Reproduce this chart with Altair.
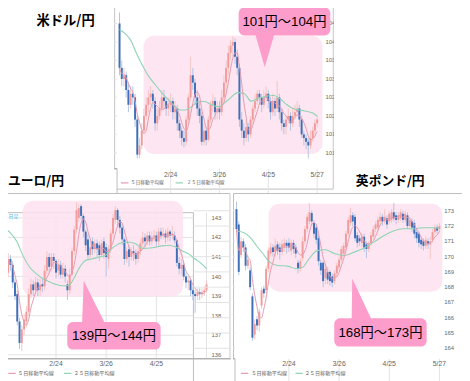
import altair as alt
import pandas as pd

# ---------------- data ----------------
days = list(range(90))
date_idx = [23, 45, 67, 89]
date_txt = ["2/24", "3/26", "4/25", "5/27"]

usd_open = [104.5,103.3,103.0,103.1,102.7,102.3,102.6,102.5,101.9,100.95,
101.2,101.6,102.0,102.3,102.5,102.6,102.4,101.8,102.0,102.2,
102.5,102.4,102.2,102.3,102.4,102.1,102.2,101.8,101.6,101.4,
101.3,101.9,102.5,103.1,102.9,102.5,102.2,102.0,101.3,101.6,
101.35,101.9,102.3,102.4,102.1,102.2,102.1,102.5,102.9,103.3,
103.7,103.9,104.0,103.6,103.3,101.9,101.6,101.4,101.7,101.5,
101.9,102.2,102.4,102.6,102.5,102.3,102.5,102.6,102.4,102.1,
102.4,102.2,102.5,102.1,101.8,101.7,101.9,102.0,101.8,102.0,
102.1,102.2,101.9,101.5,101.4,101.3,101.2,101.4,101.6,101.8]
usd_close = [103.3,103.0,103.1,102.7,102.3,102.6,102.5,101.9,100.95,101.2,
101.6,102.0,102.3,102.5,102.6,102.4,101.8,102.0,102.2,102.5,
102.4,102.2,102.3,102.4,102.1,102.2,101.8,101.6,101.4,101.3,
101.9,102.5,103.1,102.9,102.5,102.2,102.0,101.3,101.6,101.35,
101.9,102.3,102.4,102.1,102.2,102.1,102.5,102.9,103.3,103.7,
103.9,104.0,103.6,103.3,101.9,101.6,101.4,101.7,101.5,101.9,
102.2,102.4,102.6,102.5,102.3,102.5,102.6,102.4,102.1,102.4,
102.2,102.5,102.1,101.8,101.7,101.9,102.0,101.8,102.0,102.1,
102.2,101.9,101.5,101.4,101.3,101.2,101.4,101.6,101.8,101.9]
usd_high = [104.8,103.5,103.3,103.2,102.9,102.8,102.8,102.6,102.0,101.4,
101.8,102.2,102.5,102.7,102.8,102.7,102.5,102.2,102.4,102.7,
102.7,102.5,102.5,102.6,102.5,102.4,102.3,101.9,101.7,101.6,
102.0,102.6,103.6,103.3,103.0,102.7,102.4,102.1,101.8,101.7,
102.0,102.4,102.6,102.5,102.4,102.4,102.7,103.1,103.5,103.9,
104.05,104.15,104.1,103.8,103.4,102.1,101.8,101.9,101.8,102.0,
102.3,102.6,102.7,102.7,102.6,102.7,102.8,102.7,102.5,102.6,
102.5,102.95,102.6,102.2,101.9,102.0,102.2,102.1,102.2,102.3,
102.4,102.3,102.0,101.6,101.5,101.4,101.6,101.7,101.9,102.0]
usd_low = [103.1,102.8,102.8,102.5,102.1,102.2,102.3,101.7,100.85,100.85,
101.1,101.5,101.9,102.1,102.3,102.2,101.6,101.6,101.9,102.1,
102.2,102.0,102.0,102.1,101.9,101.9,101.6,101.4,101.2,101.15,
101.2,101.8,102.4,102.7,102.3,102.0,101.8,101.2,101.2,101.2,
101.3,101.8,102.1,101.9,101.9,101.9,102.0,102.4,102.7,103.1,
103.5,103.6,103.4,103.1,101.7,101.4,101.2,101.3,101.3,101.4,
101.8,102.1,102.3,102.3,102.1,102.2,102.4,102.2,101.9,102.0,
102.0,102.1,101.9,101.6,101.5,101.5,101.8,101.6,101.7,101.9,
102.0,101.7,101.4,101.2,101.1,100.85,101.1,101.3,101.5,101.7]
usd_ma25_i = [0, 3, 5.2, 7.4, 10.4, 13.4, 16.3, 19.2, 22.2, 25.1, 27.4, 29.6, 32.5, 35.5, 38.4,
              41.4, 44.4, 48.9, 53.3, 56.3, 59.2, 62.2, 65.1, 69.6, 72.5, 75.4, 78.4, 82.8, 87.3, 89]
usd_ma25_v = [104.34, 104.2, 104.03, 103.72, 103.36, 103.05, 102.83, 102.61, 102.43, 102.25, 102.16,
              102.16, 102.25, 102.39, 102.39, 102.3, 102.25, 102.43, 102.63, 102.6, 102.4, 102.47,
              102.52, 102.55, 102.45, 102.3, 102.19, 102.14, 102.07, 101.99]
usd_ticks = [101.0, 101.5, 102.0, 102.5, 103.0, 103.5, 104.0, 104.5]
usd_box_i = [10.8, 91.4]
usd_box_v = [100.97, 104.17]

eur_open = [141.6,141.3,140.2,140.9,140.6,139.7,139.1,137.7,136.6,137.3,
137.7,138.2,139.1,139.6,139.3,139.7,139.3,139.6,139.5,140.3,
141.0,140.5,141.0,140.8,140.3,140.6,140.1,140.4,139.6,139.3,
140.1,141.3,142.4,143.0,143.6,143.1,142.3,141.9,141.1,141.8,
141.4,141.7,141.6,141.1,141.8,141.5,140.9,141.4,142.2,142.9,
143.4,142.9,142.5,141.9,140.9,141.4,141.0,141.3,141.2,140.9,
141.3,141.7,142.0,141.8,142.1,141.8,142.0,142.1,141.8,142.3,
142.1,142.2,142.0,142.3,142.1,142.1,141.85,140.7,140.4,140.6,
140.0,139.7,139.8,139.3,139.1,139.0,139.2,139.1,139.2,139.3]
eur_close = [141.2,140.1,140.9,140.6,139.7,139.0,137.7,136.6,137.3,137.8,
138.2,139.1,139.6,139.3,139.7,139.3,139.6,139.5,140.3,141.0,
140.5,141.0,140.8,140.2,140.6,140.1,140.4,140.0,139.3,140.1,
141.3,142.4,143.4,143.5,143.1,142.3,141.6,141.1,141.5,141.4,
141.7,141.4,141.1,141.7,141.2,141.0,141.4,142.2,143.0,143.4,
142.9,142.5,141.9,140.9,141.3,141.0,141.3,141.2,140.9,141.3,
141.7,142.0,141.8,142.1,141.8,142.0,142.1,141.8,142.3,142.1,
142.2,142.0,142.3,142.1,142.2,141.85,140.7,140.4,140.6,140.0,
139.7,139.8,139.3,139.1,139.0,139.2,139.1,139.2,139.3,139.6]
eur_high = [141.9,141.5,141.2,141.1,140.8,139.9,139.3,137.9,137.5,138.1,
138.5,139.4,139.9,139.8,140.0,139.9,139.9,139.9,140.6,141.3,
141.2,141.2,141.2,140.9,140.9,140.8,140.7,140.6,139.8,140.4,
141.5,142.6,143.8,143.7,143.7,143.2,142.4,142.2,141.8,142.0,
141.9,141.9,141.8,141.9,142.0,141.7,141.6,142.4,143.2,143.6,
143.5,143.1,142.7,142.0,141.5,141.6,141.5,141.6,141.4,141.5,
141.9,142.3,142.2,142.3,142.3,142.3,142.4,142.3,142.5,142.5,
142.5,142.4,142.5,142.4,142.6,142.3,141.9,141.0,140.9,140.8,
140.2,140.0,139.9,139.5,139.3,139.4,139.4,139.4,139.5,139.8]
eur_low = [141.0,139.9,140.0,140.3,139.4,138.8,137.5,136.3,136.2,137.0,
137.4,138.0,138.9,139.0,139.1,139.0,139.0,139.2,139.3,140.1,
140.2,140.3,140.4,139.9,140.0,139.9,139.9,139.7,138.8,139.1,
140.0,141.1,142.2,142.8,142.9,142.0,141.3,140.9,140.9,141.1,
141.2,141.0,140.8,141.0,140.9,140.0,140.4,141.2,142.0,142.7,
142.6,142.2,141.6,140.6,140.7,140.5,140.8,140.8,140.6,140.7,
141.1,141.5,141.5,141.6,141.6,141.6,141.8,141.5,141.6,141.9,
141.9,141.7,141.8,141.8,141.9,141.7,140.5,140.1,140.1,139.8,
139.4,139.3,139.0,138.8,138.15,138.8,138.8,138.9,139.0,139.2]
eur_ma25_i = [0, 2.8, 5.7, 8.5, 11.4, 14.3, 17.2, 20, 22.9, 25.8, 28.7, 30.8, 33, 35.9, 38.7, 41.6,
              44.5, 48.1, 52.4, 55.3, 58.1, 61, 65.3, 69.6, 72.5, 75.3, 78.2, 81.1, 84, 86.9, 89]
eur_ma25_v = [142.5, 142.25, 141.82, 141.07, 140.49, 140.15, 139.9, 139.73, 139.6, 139.53, 139.56,
              139.9, 140.4, 140.82, 140.9, 140.99, 141.07, 141.49, 141.74, 141.75, 141.66, 141.44,
              141.47, 141.57, 141.6, 141.52, 141.32, 141.16, 140.9, 140.65, 140.4]
eur_ticks = [136, 137, 138, 139, 140, 141, 142, 143]
eur_box_i = [8.3, 78.7]
eur_box_v = [138.98, 143.87]

gbp_open = [173.1,172.1,170.1,171.0,170.6,169.4,169.1,167.4,164.9,165.9,
165.5,166.8,167.9,167.8,169.2,170.2,170.6,170.3,170.8,170.6,
170.3,170.6,170.9,170.9,170.4,170.9,170.6,169.6,169.2,169.9,
171.0,171.8,172.3,172.85,172.2,171.9,171.2,169.6,169.6,168.6,
169.0,169.0,168.7,168.4,168.9,169.3,169.8,170.2,170.6,171.5,
172.2,172.7,172.6,171.4,171.2,170.9,171.3,170.8,170.5,170.9,
171.3,171.8,171.9,172.3,172.6,172.3,172.5,172.3,172.4,172.9,
172.7,172.4,172.5,172.8,172.4,172.7,172.0,172.3,172.2,171.6,
171.5,171.1,171.0,170.7,171.0,170.8,171.1,171.6,171.9,171.8]
gbp_close = [171.8,169.0,171.0,170.6,169.4,169.8,168.0,164.7,165.6,165.5,
166.4,167.8,167.6,169.2,170.4,170.6,170.3,170.7,170.4,170.3,
170.8,170.9,170.7,170.6,170.9,170.5,170.2,169.2,169.7,171.0,
171.8,172.6,172.9,172.3,171.5,171.1,169.7,169.1,168.4,169.2,
168.5,168.4,168.3,168.9,169.4,169.8,170.5,170.7,171.5,172.4,
172.7,172.3,171.2,170.9,171.0,171.3,170.6,170.5,170.8,171.4,
171.8,172.1,172.4,172.6,172.3,172.6,172.1,172.8,172.9,172.5,
172.4,172.7,172.9,172.4,172.8,172.0,172.4,171.9,171.5,171.2,
170.9,170.8,170.7,171.1,170.8,171.0,171.6,171.9,171.7,172.0]
gbp_high = [173.6,172.3,171.3,171.2,170.8,170.1,169.3,167.6,165.9,166.1,
166.6,168.0,168.1,169.4,170.6,170.9,170.8,171.2,171.0,170.9,
171.1,171.2,171.1,171.2,171.1,171.1,170.8,169.8,169.9,171.3,
172.0,172.8,173.5,173.0,172.4,172.1,171.4,169.8,169.7,169.5,
169.3,169.1,168.9,169.1,169.6,170.0,170.7,170.9,171.7,172.6,
173.2,172.9,172.8,171.6,171.4,171.5,171.5,171.0,171.0,171.6,
172.0,172.3,172.6,172.9,172.8,173.1,172.7,173.0,173.1,173.5,
172.9,172.9,173.1,173.0,173.0,172.9,172.6,172.5,172.4,171.8,
171.6,171.3,171.2,171.3,171.2,171.3,171.8,172.1,172.1,172.2]
gbp_low = [171.6,168.8,169.9,170.3,169.1,169.2,167.8,164.5,164.6,165.2,
165.1,166.6,167.3,167.6,169.0,170.0,170.0,170.0,170.1,169.8,
170.1,170.3,170.2,170.3,170.1,170.2,169.9,168.9,169.0,169.7,
170.8,171.6,172.1,172.0,171.2,170.8,169.4,168.8,168.0,168.2,
168.2,168.1,168.0,168.2,168.6,169.1,169.6,170.0,170.4,171.3,
172.0,172.0,171.0,170.6,170.7,170.6,170.3,169.9,170.3,170.7,
171.1,171.6,171.7,172.1,172.0,172.1,171.8,172.1,172.2,172.3,
172.1,172.2,172.3,172.2,172.2,171.8,171.8,171.6,171.2,170.9,
170.6,170.5,170.4,170.5,170.5,169.85,170.9,171.4,171.5,171.6]
gbp_ma25_i = [0, 3.1, 6, 8.8, 11.7, 14.6, 18.2, 22.5, 26.1, 29, 31.8, 35.4, 39, 42.9, 47.2,
              51.5, 55.8, 60.1, 64.4, 68.8, 73.1, 77.4, 81.7, 86, 89]
gbp_ma25_v = [171.67, 171.57, 171.25, 170.71, 170.17, 169.64, 169.42, 169.38, 169.21, 169.3,
              169.85, 170.39, 170.45, 170.2, 170.07, 170.28, 170.54, 170.93, 171.35, 171.67,
              171.82, 171.82, 171.89, 171.89, 171.85]
gbp_ticks = [164, 165, 166, 167, 168, 169, 170, 171, 172, 173]
gbp_box_i = [14.1, 90.3]
gbp_box_v = [167.71, 173.45]

legend_txt = ["５日移動平均線", "２５日移動平均線"]

# ---------------- style ----------------
M = 8
CJK = "Noto Sans CJK JP"
NUMF = "Liberation Sans, Noto Sans CJK JP"
PINK_BODY = "#f09c9c"
PINK_WICK = "#f6c4c4"
BLUE_BODY = "#3f6fb8"
BLUE_WICK = "#b2c4e4"
MA5_C = "#e29aae"
MA25_C = "#8ed3b3"
GRID = "#e2e2e2"
BORDER = "#bdbdbd"
HL = "#fde2ef"
CALL = "#fd9dcb"
LBL = "#666666"


def P(v):
    return v - M


one = pd.DataFrame({"k": [0]})


def rect(x1, y1, x2, y2, **kw):
    return alt.Chart(one).mark_rect(**kw).encode(
        x=alt.value(P(x1)), x2=alt.value(P(x2)), y=alt.value(P(y1)), y2=alt.value(P(y2)))


def label(s, x, y, size, color="black", weight="normal", align="left", font=CJK):
    return alt.Chart(one).mark_text(text=s, align=align, baseline="middle", fontSize=size,
                                    font=font, fontWeight=weight, color=color).encode(
        x=alt.value(P(x)), y=alt.value(P(y)))


def hline(x1, x2, y, color, w=1.0):
    return alt.Chart(one).mark_rect(color=color).encode(
        x=alt.value(P(x1)), x2=alt.value(P(x2)), y=alt.value(P(y) - w / 2), y2=alt.value(P(y) + w / 2))


def tri(cx, cy, half, path):
    return alt.Chart(one).mark_point(shape=path, size=(2 * half) ** 2, filled=True, fill=CALL,
                                     color=CALL, opacity=1, strokeWidth=0).encode(
        x=alt.value(P(cx)), y=alt.value(P(cy)))


def panel(o, h, l, c, ma_i, ma_v, ticks, box_i, box_v, g):
    df = pd.DataFrame({"i": days, "o": o, "h": h, "l": l, "c": c})
    xs = alt.Scale(domain=[0, 89], range=[P(g["x0"]), P(g["x1"])], zero=False, nice=False)
    ys = alt.Scale(domain=[g["v0"], g["v1"]], range=[P(g["y0"]), P(g["y1"])], zero=False, nice=False)

    def X(f):
        return alt.X(f, type="quantitative", scale=xs, axis=None)

    def Y(f):
        return alt.Y(f, type="quantitative", scale=ys, axis=None)

    L, R, T, B = g["box"]
    gl = (L - g["x0"]) / (g["x1"] - g["x0"]) * 89
    gr = (R - g["x0"]) / (g["x1"] - g["x0"]) * 89
    tdf = pd.DataFrame({"v": ticks, "t": [f"{t:g}" for t in ticks]})
    gdf = pd.DataFrame({"v": ticks + ticks, "i": [gl] * len(ticks) + [gr] * len(ticks),
                        "k": list(range(len(ticks))) * 2})
    ddf = pd.DataFrame({"i": date_idx, "t": date_txt})
    bdf = pd.DataFrame({"i0": [box_i[0]], "i1": [box_i[1]], "v0": [box_v[0]], "v1": [box_v[1]]})
    mdf = pd.DataFrame({"i": ma_i, "v": ma_v})
    up = "datum.c >= datum.o"
    layers = [
        rect(*g["frame"], fill="white", stroke=BORDER, strokeWidth=1),
        rect(L, T, R, B, fill="white", stroke=BORDER, strokeWidth=1),
        alt.Chart(gdf).mark_line(color=GRID, strokeWidth=1).encode(
            x=X("i"), y=Y("v"), detail="k:N"),
        alt.Chart(ddf).mark_rule(color=GRID, strokeWidth=1).encode(
            x=X("i"), y=alt.value(P(T)), y2=alt.value(P(B))),
        hline(L, R, B, "#a8a8a8"),
        alt.Chart(bdf).mark_rect(cornerRadius=11, color=HL, opacity=0.85).encode(
            x=X("i0"), x2=alt.X2("i1"), y=Y("v0"), y2=alt.Y2("v1")),
        alt.Chart(df).mark_rule(strokeWidth=1).encode(
            x=X("i"), y=Y("l"), y2=alt.Y2("h"),
            color=alt.condition(up, alt.value(PINK_WICK), alt.value(BLUE_WICK))),
        alt.Chart(df).mark_rule(strokeWidth=2).encode(
            x=X("i"), y=Y("o"), y2=alt.Y2("c"),
            color=alt.condition(up, alt.value(PINK_BODY), alt.value(BLUE_BODY))),
        alt.Chart(mdf).mark_line(color=MA25_C, strokeWidth=1.1, interpolate="monotone").encode(
            x=X("i"), y=Y("v")),
        alt.Chart(df).transform_window(ma5="mean(c)", frame=[-4, 0], sort=[alt.SortField("i")])
        .mark_line(color=MA5_C, strokeWidth=1, interpolate="monotone").encode(x=X("i"), y=Y("ma5")),
        alt.Chart(tdf).mark_text(align="left", baseline="middle", fontSize=6, color=LBL, font=NUMF).encode(
            y=Y("v"), x=alt.value(P(g["lx"])), text="t:N"),
        alt.Chart(ddf).mark_text(align="center", baseline="middle", fontSize=7, color=LBL, font=NUMF).encode(
            x=X("i"), y=alt.value(P(g["dy"])), text="t:N"),
        label("日足", g["nx"], T + 3, 5, color="#4fb8f0"),
    ]
    ly = g["ly"]
    lx = g["leg"]
    layers += [
        hline(lx[0], lx[0] + 7.5, ly, MA5_C, 1.2),
        label(legend_txt[0], lx[1], ly, g["lf"], color=LBL),
        hline(lx[2], lx[2] + 7.5, ly, MA25_C, 1.2),
        label(legend_txt[1], lx[3], ly, g["lf"], color=LBL),
    ]
    return layers


usd_g = dict(x0=121.5, x1=322.6, v0=101, v1=104, y0=152.1, y1=39.3,
             box=(119, 3, 329.5, 168.3), frame=(116.5, 0, 339, 189), lx=331, dy=174.5,
             ly=182.7, leg=(123, 133, 178.5, 190), lf=4.8, nx=122)
eur_g = dict(x0=3.5, x1=210.0, v0=136, v1=143, y0=357.6, y1=218.3,
             box=(1.7, 196.7, 213, 361.7), frame=(1, 193.5, 234, 386), lx=215, dy=367,
             ly=376.5, leg=(8.3, 18.3, 65, 75), lf=5.2, nx=8.5)
gbp_g = dict(x0=240.5, x1=447.0, v0=164, v1=173, y0=351.1, y1=211,
             box=(239, 196.7, 450, 361.7), frame=(237.5, 193.5, 474, 386), lx=452, dy=367,
             ly=376.5, leg=(245, 255.7, 300.5, 310), lf=5.2, nx=243)

layers = []
layers += panel(usd_open, usd_high, usd_low, usd_close, usd_ma25_i, usd_ma25_v, usd_ticks,
                usd_box_i, usd_box_v, usd_g)
layers += panel(eur_open, eur_high, eur_low, eur_close, eur_ma25_i, eur_ma25_v, eur_ticks,
                eur_box_i, eur_box_v, eur_g)
layers += panel(gbp_open, gbp_high, gbp_low, gbp_close, gbp_ma25_i, gbp_ma25_v, gbp_ticks,
                gbp_box_i, gbp_box_v, gbp_g)

# blank page areas around the widgets
layers += [
    rect(0, 0, 116, 193, fill="white", strokeWidth=0),
    rect(339.6, 0, 480, 193, fill="white", strokeWidth=0),
    rect(234.6, 193, 237, 400, fill="white", strokeWidth=0),
]

# callouts
layers += [
    rect(242.7, 4, 336, 32.7, fill=CALL, cornerRadius=6),
    tri(269.3, 48.85, 16.2, "M-0.62,-1.15L0.62,-1.15L0,1Z"),
    label("101円～104円", 289.3, 18.8, 13.5, font=NUMF, align="center"),
    rect(68.3, 324.3, 163.3, 352.3, fill=CALL, cornerRadius=6),
    tri(95.3, 303.3, 21, "M-0.49,-1L-0.571,1.12L0.571,1.12Z"),
    label("139円～144円", 115.8, 338.6, 13.5, font=NUMF, align="center"),
    rect(340, 320.5, 434, 349.3, fill=CALL, cornerRadius=6),
    tri(368, 300, 20, "M-0.485,-1L-0.515,1.12L0.515,1.12Z"),
    label("168円～173円", 387, 335.2, 13.5, font=NUMF, align="center"),
]

# titles
layers += [
    label("米ドル/円", 37, 18, 13.5, weight="bold"),
    label("ユーロ/円", 8, 180.5, 13, weight="bold"),
    label("英ポンド/円", 362, 181, 13, weight="bold"),
]

chart = (
    alt.layer(*layers)
    .resolve_scale(x="independent", y="independent")
    .properties(width=462, height=373, padding=0,
                autosize=alt.AutoSizeParams(type="none"), background="white")
    .configure_view(stroke=None)
)

chart.save("out.html", embed_options={"renderer": "svg", "actions": False})
